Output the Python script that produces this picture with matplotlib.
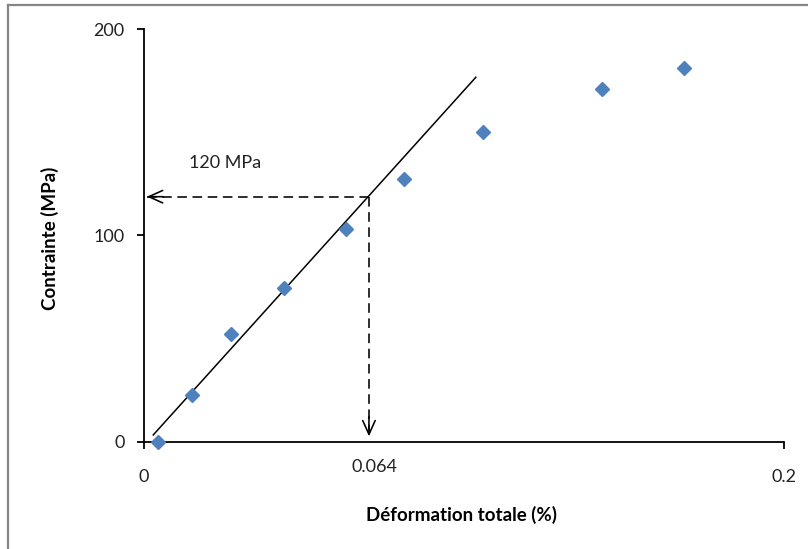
import matplotlib
matplotlib.use("Agg")
import matplotlib.pyplot as plt
from matplotlib.lines import Line2D
from matplotlib.patches import FancyArrowPatch

plt.rcParams['font.family'] = ['Lato', 'DejaVu Sans']

# Data
strain = [0.0045, 0.0150, 0.0272, 0.0438, 0.0631, 0.0813, 0.1060, 0.1432, 0.1688]
stress = [0.0, 22.5, 52.1, 74.4, 103.0, 127.3, 149.9, 170.8, 180.9]
fit_x = [0.0029, 0.1037]
fit_y = [3.2, 176.6]
cross_x = 0.0703
cross_y = 118.7
xticks = [0, 0.2]
xtick_labels = ['0', '0.2']
yticks = [0, 100, 200]
ytick_labels = ['0', '100', '200']

W, H = 808, 549
fig = plt.figure(figsize=(W / 100, H / 100), dpi=100)
ax = fig.add_axes([144 / W, (H - 441.5) / H, (784 - 144) / W, (441.5 - 29) / H])

ax.set_xlim(0, 0.2)
ax.set_ylim(0, 200)

ax.plot(fit_x, fit_y, color='black', lw=1.1, zorder=3)
ax.plot(strain, stress, linestyle='none', marker='D', markersize=7.3,
        color='#4F81BD', markeredgecolor='#4F81BD', zorder=4, clip_on=False)

dash = (0, (6, 3.5))
ax.plot([0.0009, cross_x], [cross_y, cross_y], color='black', lw=1.15, linestyle=dash, zorder=2)
ax.plot([cross_x, cross_x], [cross_y, 2.5], color='black', lw=1.15, linestyle=dash, zorder=2)

# arrow heads
for (x0, y0, x1, y1) in [(0.006, cross_y, 0.0009, cross_y), (cross_x, 12, cross_x, 2.5)]:
    arr = FancyArrowPatch((x0, y0), (x1, y1), arrowstyle='->,head_length=1.0,head_width=0.45',
                          mutation_scale=10, color='black', lw=1.15, shrinkA=0, shrinkB=0, zorder=2)
    ax.add_patch(arr)

ax.spines['top'].set_visible(False)
ax.spines['right'].set_visible(False)
for s in ['left', 'bottom']:
    ax.spines[s].set_linewidth(1.3)
    ax.spines[s].set_color('black')

ax.set_xticks(xticks)
ax.set_xticklabels(xtick_labels)
ax.set_yticks(yticks)
ax.set_yticklabels(ytick_labels)
ax.tick_params(axis='y', direction='out', length=5, width=1.3, pad=9, labelsize=13, colors='black')
ax.tick_params(axis='x', direction='out', length=5, width=1.3, pad=15, labelsize=13, colors='black')
for lbl in ax.get_xticklabels() + ax.get_yticklabels():
    lbl.set_color('#222222')

ax.text(cross_x + 0.0017, -12.5, '0.064', ha='center', va='center', fontsize=13, color='#222222')
ax.text(0.0142, 135, '120 MPa', ha='left', va='center', fontsize=13, color='#222222')

fig.text(50 / W, 1 - 238 / H, 'Contrainte (MPa)', rotation=90, ha='center', va='center',
         fontsize=13.5, fontweight='bold', color='black')
fig.text(462 / W, 1 - 515 / H, 'Déformation totale (%)', ha='center', va='center',
         fontsize=13.5, fontweight='bold', color='black')

# chart border
fig.add_artist(Line2D([7.7 / W, 7.7 / W], [0, 1 - 4.7 / H], transform=fig.transFigure,
                      color='#868686', lw=1.6))
fig.add_artist(Line2D([7.7 / W, 1], [1 - 4.7 / H, 1 - 4.7 / H], transform=fig.transFigure,
                      color='#868686', lw=1.6))

fig.savefig('out.png', dpi=100)
